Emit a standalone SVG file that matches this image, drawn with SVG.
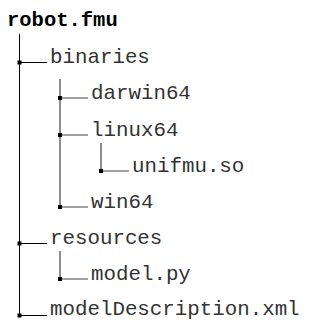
<svg xmlns="http://www.w3.org/2000/svg" width="324" height="320" viewBox="0 0 324 320">
  <style>
    .lbl { font-family: "Liberation Mono", "Courier New", monospace; font-size: 20.8px; fill: #333; }
    .root { font-family: "Liberation Mono", "Courier New", monospace; font-size: 20.5px; font-weight: bold; fill: #000; }
    .tree { stroke: #000; stroke-width: 1; fill: none; }
    .sub { stroke: #444; stroke-width: 1.2; fill: none; }
    .dot { fill: #000; }
  </style>
  <rect width="324" height="320" fill="#fff"/>

  <!-- tree connectors -->
  <g id="connectors">
    <path class="tree" d="M19.5,34 V315 M19,62.5 H47 M19,243.5 H47 M19,315.5 H47"/>
    <path class="sub" d="M60,79 V207 M60,98 H88 M60,135 H88 M60,207 H88"/>
    <path class="sub" d="M101,143 V171 M101,171 H129"/>
    <path class="sub" d="M60,251 V279 M60,279 H88"/>
    <g class="dot">
      <rect x="17.5" y="60.5" width="4" height="4"/>
      <rect x="58" y="96" width="4" height="4"/>
      <rect x="58" y="133" width="4" height="4"/>
      <rect x="99" y="169" width="4" height="4"/>
      <rect x="58" y="205" width="4" height="4"/>
      <rect x="17.5" y="241.5" width="4" height="4"/>
      <rect x="58" y="277" width="4" height="4"/>
      <rect x="17.5" y="313.5" width="4" height="4"/>
    </g>
  </g>

  <g id="robot-fmu"><text class="root" x="7" y="26">robot.fmu</text></g>
  <g id="binaries"><text class="lbl" x="50" y="63">binaries</text></g>
  <g id="darwin64"><text class="lbl" x="91" y="99">darwin64</text></g>
  <g id="linux64"><text class="lbl" x="91" y="136">linux64</text></g>
  <g id="unifmu-so"><text class="lbl" x="132" y="172">unifmu.so</text></g>
  <g id="win64"><text class="lbl" x="91" y="208">win64</text></g>
  <g id="resources"><text class="lbl" x="50" y="244">resources</text></g>
  <g id="model-py"><text class="lbl" x="91" y="280">model.py</text></g>
  <g id="modelDescription-xml"><text class="lbl" x="50" y="315">modelDescription.xml</text></g>
</svg>
